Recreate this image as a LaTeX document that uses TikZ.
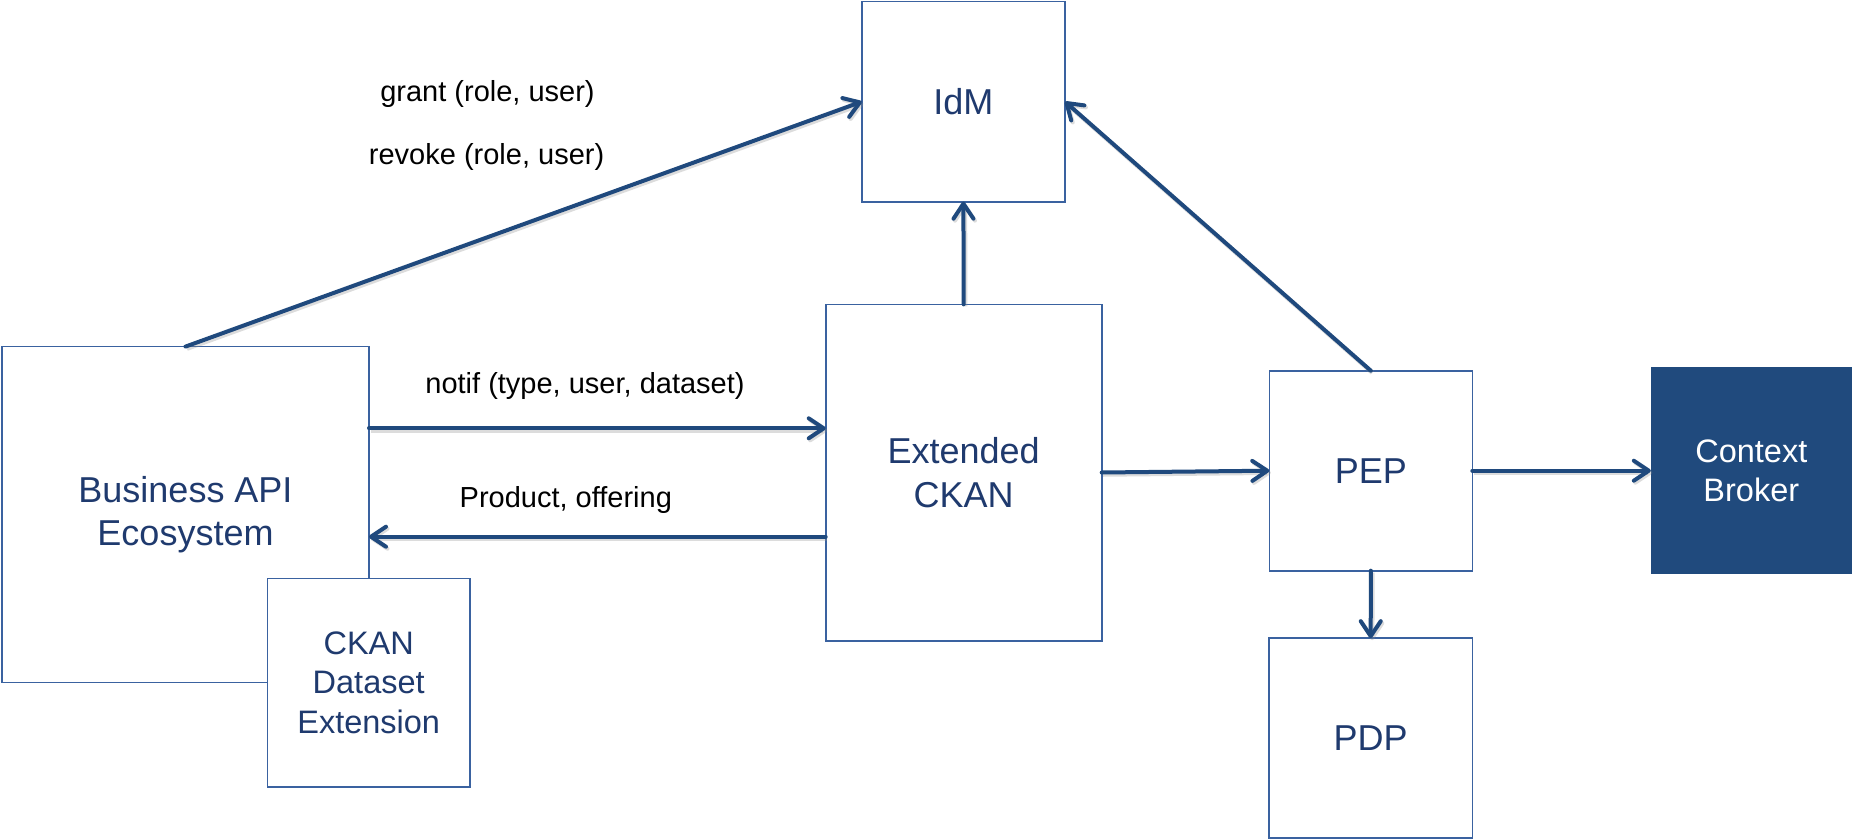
\documentclass[tikz,border=0pt]{standalone}
\usepackage{fontspec}
\setmainfont{Liberation Sans}
\usetikzlibrary{arrows.meta,calc}
\definecolor{boxline}{HTML}{3A62A0}
\definecolor{navytext}{HTML}{1F3A6E}
\definecolor{arrowblue}{HTML}{1F497D}
\definecolor{cbfill}{HTML}{204A7D}
\begin{document}
\begin{tikzpicture}[x=1pt,y=-1pt,
  box/.style={draw=boxline,line width=1.6pt,fill=white,inner sep=0pt,outer sep=0pt,
    align=center,text=navytext},
  bigtext/.style={font=\fontsize{36}{43.3}\selectfont},
  smalltext/.style={font=\fontsize{32.5}{39.5}\selectfont},
  lbl/.style={font=\fontsize{29}{34}\selectfont,text=black,inner sep=0pt,anchor=base},
  arr/.style={draw=arrowblue,line width=4pt,line cap=round,
    -{Straight Barb[length=15pt,width=20pt,line width=4pt,round]},
    preaction={draw=black!45,opacity=0.3,line width=4.5pt,
      transform canvas={shift={(1.5pt,-2pt)}}}}
]
\useasboundingbox (0,0) rectangle (1854,840);
\fill[white] (0,0) rectangle (1854,840);

\node[box,bigtext,minimum width=367pt,minimum height=336pt] (biz) at (185.5,514.6) {Business API\\Ecosystem};
\node[box,smalltext,minimum width=202.7pt,minimum height=208.4pt] (ckanext) at (368.7,682.5) {CKAN\\Dataset\\Extension};
\node[box,bigtext,minimum width=203.3pt,minimum height=200pt] (idm) at (963.4,101.7) {IdM};
\node[box,bigtext,minimum width=276pt,minimum height=336.4pt] (ext) at (963.7,472.5) {Extended\\CKAN};
\node[box,bigtext,minimum width=203pt,minimum height=200pt] (pep) at (1370.8,470.7) {PEP};
\node[box,bigtext,minimum width=203.3pt,minimum height=199.7pt] (pdp) at (1370.7,738) {PDP};
\node[box,smalltext,draw=none,fill=cbfill,text=white,minimum width=201pt,minimum height=206.7pt] (cb) at (1751.3,470.7) {Context\\Broker};

\node[lbl] (grant) at (487.5,101.7) {grant (role, user)};
\node[lbl] (revoke) at (486.6,164.4) {revoke (role, user)};
\node[lbl] (notif) at (585,393.3) {notif (type, user, dataset)};
\node[lbl] (prod) at (565.8,507.3) {Product, offering};

\coordinate (n1) at ([yshift=86.3pt]biz.east);
\coordinate (r1) at ([yshift=-22.1pt]biz.east);

\draw[arr] (biz.north) -- (idm.west);
\draw[arr] (ext.north) -- (idm.south);
\draw[arr] (pep.north) -- (idm.east);
\draw[arr] (n1) -- (n1 -| ext.west);
\draw[arr] (r1 -| ext.west) -- (r1);
\draw[arr] (ext.east) -- (pep.west);
\draw[arr] (pep.east) -- (cb.west);
\draw[arr] (pep.south) -- (pdp.north);
\end{tikzpicture}
\end{document}
